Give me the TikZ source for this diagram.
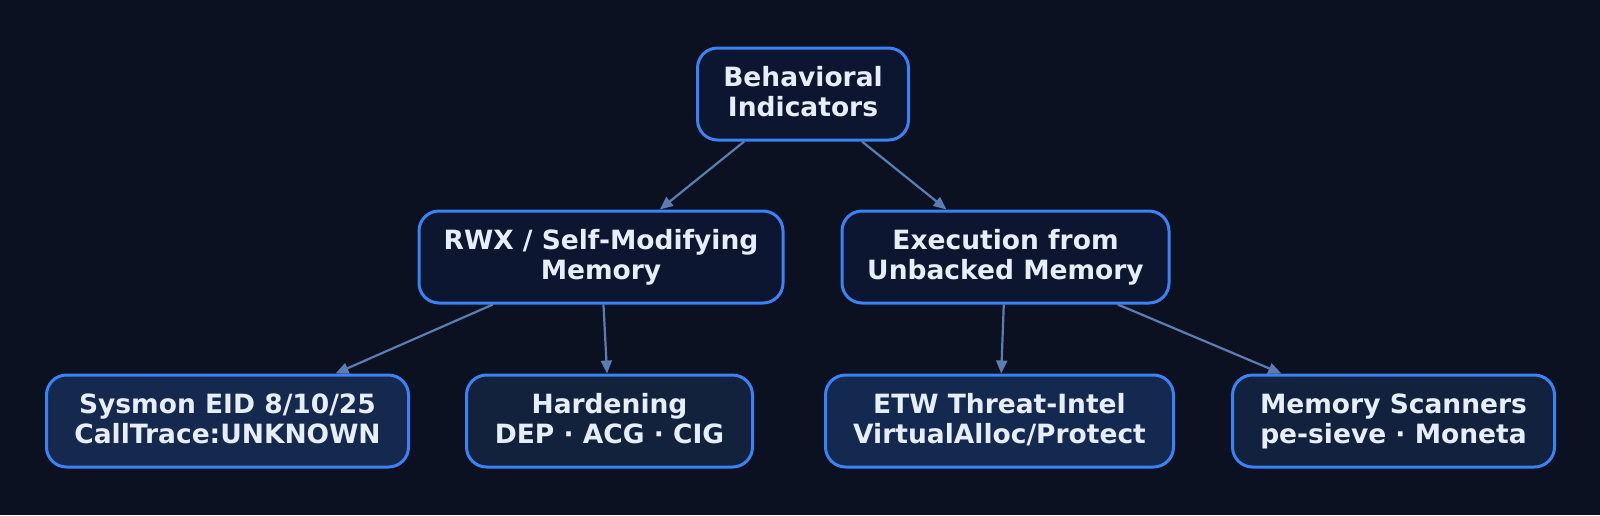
\documentclass[tikz,border=0pt]{standalone}
\usepackage{fontspec}
\setmainfont{DejaVu Sans}
\usetikzlibrary{arrows.meta}
\definecolor{bg}{HTML}{0B1120}
\definecolor{bord}{HTML}{3B82F6}
\definecolor{edgec}{HTML}{5B7DB1}
\definecolor{txt}{HTML}{E6EEFB}
\definecolor{fa}{HTML}{0D1630}
\definecolor{fsys}{HTML}{15284D}
\definecolor{fhard}{HTML}{12223D}
\definecolor{fetw}{HTML}{14294F}
\definecolor{fmem}{HTML}{12223E}
\tikzset{
  box/.style={draw=bord, line width=3pt, rounded corners=20pt, text=txt,
    font=\fontsize{26.5}{30}\selectfont\bfseries, align=center,
    minimum height=92pt, inner sep=0pt,
    execute at end node={\rule[-5pt]{0pt}{0pt}}},
  conn/.style={draw=edgec, line width=2.2pt, -{Triangle[length=13pt,width=11pt]}}
}
\begin{document}
\begin{tikzpicture}[x=1pt,y=-1pt]
\fill[bg] (0,0) rectangle (1600,515);
\useasboundingbox (0,0) rectangle (1600,515);
\node[box, fill=fa, minimum width=211pt] (top) at (803,94) {Behavioral\\Indicators};
\node[box, fill=fa, minimum width=364pt] (rwx) at (601,257) {RWX / Self-Modifying\\Memory};
\node[box, fill=fa, minimum width=327pt] (exe) at (1005.5,257) {Execution from\\Unbacked Memory};
\node[box, fill=fsys, minimum width=362pt] (sys) at (227.5,421) {Sysmon EID 8/10/25\\CallTrace:UNKNOWN};
\node[box, fill=fhard, minimum width=286pt] (hard) at (609.5,421) {Hardening\\DEP · ACG · CIG};
\node[box, fill=fetw, minimum width=348pt] (etw) at (999.5,421) {ETW Threat-Intel\\VirtualAlloc/Protect};
\node[box, fill=fmem, minimum width=322pt] (mem) at (1393.5,421) {Memory Scanners\\pe-sieve · Moneta};
\draw[conn] (top) -- (rwx);
\draw[conn] (top) -- (exe);
\draw[conn] (rwx) -- (sys);
\draw[conn] (rwx) -- (hard);
\draw[conn] (exe) -- (etw);
\draw[conn] (exe) -- (mem);
\end{tikzpicture}
\end{document}
